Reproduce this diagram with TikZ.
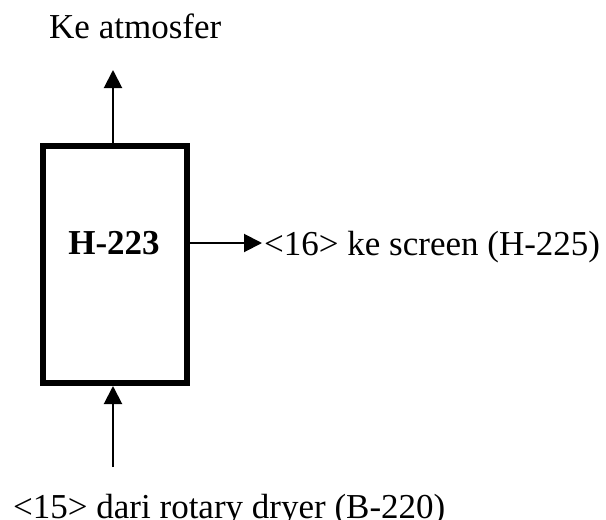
\documentclass[tikz,border=0pt]{standalone}
\usepackage{fontspec}
\setmainfont{Liberation Serif}
\usetikzlibrary{arrows.meta}
\begin{document}
\begin{tikzpicture}[x=1pt,y=-1pt,
  lbl/.style={inner sep=0pt,font=\fontsize{35}{42}\selectfont},
  arr/.style={line width=2pt,-{Triangle[length=18pt,width=18pt]}},
  unit/.style={draw,line width=6pt,minimum width=144pt,minimum height=237pt,inner sep=0pt}]
\useasboundingbox (0,0) rectangle (606,520);
\node[unit] (box) at (115,264.5) {};
\node[lbl,font=\fontsize{35}{42}\selectfont\bfseries] (name) at (114,243) {H-223};
\coordinate (tt) at (113,70);
\coordinate (rt) at (262,243);
\coordinate (bs) at (113,467);
\draw[arr] (box.north -| tt) -- (tt);
\draw[arr] (box.east |- rt) -- (rt);
\draw[arr] (bs) -- (box.south -| bs);
\node[lbl,anchor=base west] (top) at (49,38) {Ke atmosfer};
\node[lbl,anchor=base west] (out) at (264,255) {<16> ke screen (H-225)};
\node[lbl,anchor=base west] (in) at (13,518) {<15> dari rotary dryer (B-220)};
\end{tikzpicture}
\end{document}
